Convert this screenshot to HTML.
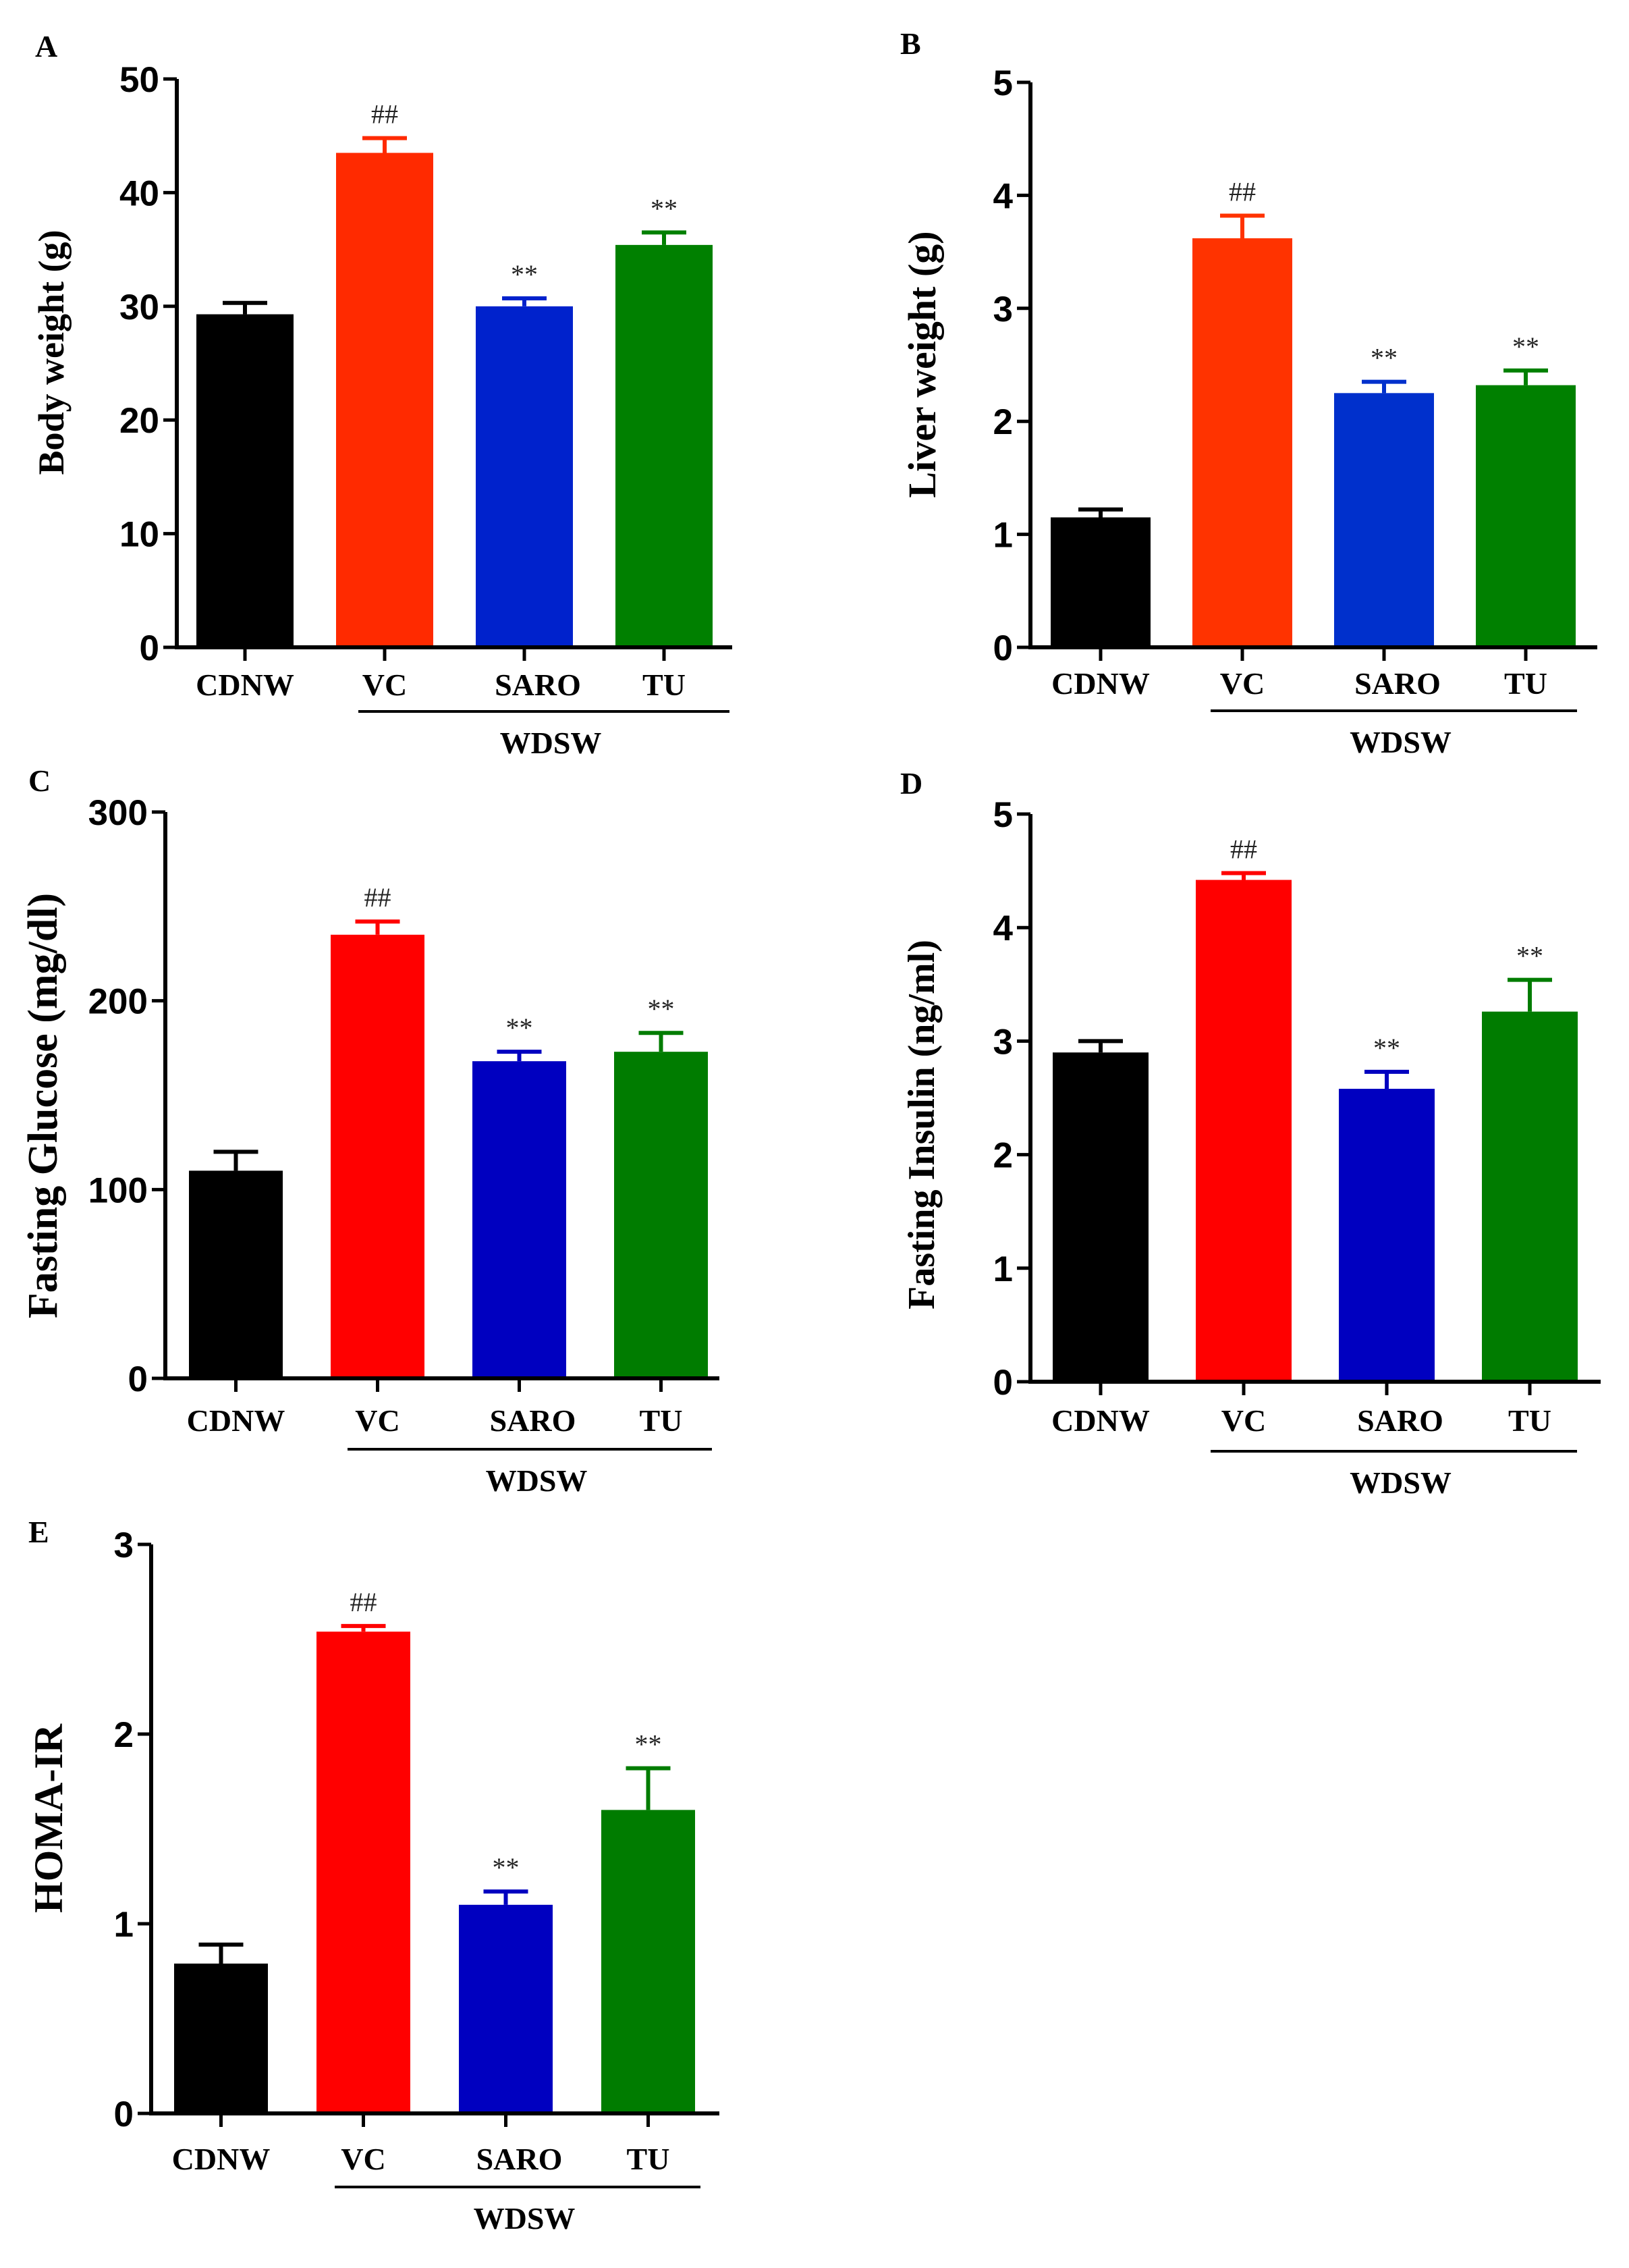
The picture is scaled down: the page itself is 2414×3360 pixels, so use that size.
<!DOCTYPE html>
<html><head><meta charset="utf-8">
<style>
html,body{margin:0;padding:0;background:#fff;}
svg{display:block;}
.tick{font-family:"Liberation Sans",Arial,sans-serif;font-weight:bold;font-size:53px;fill:#000;}
.cat{font-family:"Liberation Serif",serif;font-weight:bold;font-size:46px;fill:#000;}
.ttl{font-family:"Liberation Serif",serif;font-weight:bold;fill:#000;}
.sig{font-family:"Liberation Serif",serif;font-size:40px;fill:#222;}
.plab{font-family:"Liberation Serif",serif;font-weight:bold;font-size:46px;fill:#000;}
</style></head>
<body>
<svg id="fig" width="2414" height="3360" viewBox="0 0 2414 3360" xmlns="http://www.w3.org/2000/svg"></svg>
<script>
const categories = ["CDNW","VC","SARO","TU"];
const sigMarks = ["","##","**","**"];
const valuesA = [29.3, 43.5, 30.0, 35.4];
const errorsA = [1.0, 1.3, 0.7, 1.1];
const ticksA = [0,10,20,30,40,50];
const valuesB = [1.15, 3.62, 2.25, 2.32];
const errorsB = [0.07, 0.2, 0.1, 0.13];
const ticksB = [0,1,2,3,4,5];
const valuesC = [110, 235, 168, 173];
const errorsC = [10, 7, 5, 10];
const ticksC = [0,100,200,300];
const valuesD = [2.9, 4.42, 2.58, 3.26];
const errorsD = [0.1, 0.06, 0.15, 0.28];
const ticksD = [0,1,2,3,4,5];
const valuesE = [0.79, 2.54, 1.1, 1.6];
const errorsE = [0.1, 0.03, 0.07, 0.22];
const ticksE = [0,1,2,3];

const NS = "http://www.w3.org/2000/svg";
const svg = document.getElementById("fig");
function mk(tag, attrs, parent, text){
  const e = document.createElementNS(NS, tag);
  for (const k in attrs) e.setAttribute(k, attrs[k]);
  if (text !== undefined) e.textContent = text;
  parent.appendChild(e);
  return e;
}

function panel(cfg, values, errors, ticks){
  const g = mk("g", {}, svg);
  
  
  const maxV = ticks[ticks.length-1];
  const y = v => cfg.y0 - (v / maxV) * (cfg.y0 - cfg.yTop);
  const bw = cfg.bw;
  const cx = i => cfg.firstBar + bw/2 + i * cfg.step;

  const pl = mk("text", {x:cfg.lx, y:cfg.ly, class:"plab"}, g, cfg.letter);
  
  

  for (let i = 0; i < values.length; i++){
    const top = y(values[i]);
    const r = mk("rect", {x:cx(i)-bw/2, y:top, width:bw, height:cfg.y0-top, fill:cfg.colors[i]}, g);
    
    
    const et = y(values[i] + errors[i]);
    const el = mk("path", {d:`M${cx(i)} ${top} V${et} M${cx(i)-33} ${et} H${cx(i)+33}`, stroke:cfg.colors[i], "stroke-width":6, fill:"none"}, g);
    
    
    if (sigMarks[i]){
      const s = mk("text", {x:cx(i), y:et-22, class:"sig", "text-anchor":"middle"}, g, sigMarks[i]);
      
      
    }
    const off = i === 2 ? 20 : 0;
    const cl = mk("text", {x:cx(i)+off, y:cfg.catY, class:"cat", "text-anchor":"middle"}, g, categories[i]);
    
    
    const xt = mk("line", {x1:cx(i), x2:cx(i), y1:cfg.y0, y2:cfg.y0+20, stroke:"#000", "stroke-width":5}, g);
    
    
  }
  const ax = mk("path", {d:`M${cfg.ax} ${cfg.yTop} V${cfg.y0} H${cfg.xEnd}`, stroke:"#000", "stroke-width":6, fill:"none"}, g);
  
  
  for (const t of ticks){
    const ty = y(t);
    const tl = mk("line", {x1:cfg.ax-20, x2:cfg.ax, y1:ty, y2:ty, stroke:"#000", "stroke-width":5}, g);
    
    
    const tt = mk("text", {x:cfg.ax-26, y:ty+19, class:"tick", "text-anchor":"end"}, g, String(t));
    
    
  }
  const yt = mk("text", {x:0, y:0, class:"ttl", "font-size":cfg.tfs, "text-anchor":"middle", transform:`translate(${cfg.tx},${cfg.ty}) rotate(-90)`}, g, cfg.title);
  
  
  const wl = mk("line", {x1:cfg.wx1, x2:cfg.wx2, y1:cfg.wy, y2:cfg.wy, stroke:"#000", "stroke-width":4}, g);
  
  
  const wt = mk("text", {x:(cfg.wx1+cfg.wx2)/2 + 10, y:cfg.wy+62, class:"cat", "text-anchor":"middle"}, g, "WDSW");
  
  
}

const redA = ["#000000","#ff2a00","#0022cc","#008000"];
const redB = ["#000000","#ff3300","#0030cc","#008000"];
const redC = ["#000000","#ff0000","#0000c0","#007c00"];

panel({letter:"A", lx:52, ly:84, ax:262, yTop:117, y0:959, xEnd:1085, firstBar:291, bw:144, step:207,
  colors:redA, title:"Body weight (g)", tfs:54, tx:94, ty:522, catY:1030, wx1:531, wx2:1081, wy:1054}, valuesA, errorsA, ticksA);
panel({letter:"B", lx:1334, ly:80, ax:1527, yTop:122, y0:959, xEnd:2367, firstBar:1557, bw:148, step:210,
  colors:redB, title:"Liver weight (g)", tfs:58, tx:1386, ty:540, catY:1028, wx1:1794, wx2:2337, wy:1053}, valuesB, errorsB, ticksB);
panel({letter:"C", lx:42, ly:1172, ax:245, yTop:1203, y0:2042, xEnd:1066, firstBar:280, bw:139, step:210,
  colors:redC, title:"Fasting Glucose (mg/dl)", tfs:62, tx:84, ty:1638, catY:2120, wx1:515, wx2:1055, wy:2147}, valuesC, errorsC, ticksC);
panel({letter:"D", lx:1334, ly:1176, ax:1527, yTop:1206, y0:2047, xEnd:2372, firstBar:1560, bw:142, step:212,
  colors:redC, title:"Fasting Insulin (ng/ml)", tfs:56, tx:1384, ty:1666, catY:2120, wx1:1794, wx2:2337, wy:2150}, valuesD, errorsD, ticksD);
panel({letter:"E", lx:42, ly:2285, ax:224, yTop:2288, y0:3131, xEnd:1066, firstBar:258, bw:139, step:211,
  colors:redC, title:"HOMA-IR", tfs:60, tx:92, ty:2694, catY:3214, wx1:496, wx2:1038, wy:3240}, valuesE, errorsE, ticksE);
</script>
</body></html>
